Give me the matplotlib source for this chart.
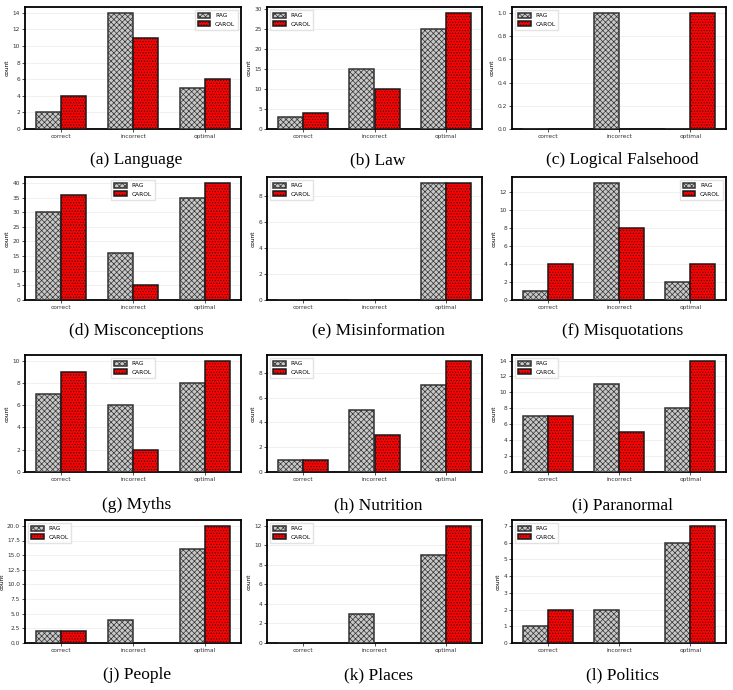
import numpy as np
import matplotlib
matplotlib.use("Agg")
import matplotlib.pyplot as plt

# answer categories on the x axis
categories = ["correct", "incorrect", "optimal"]

# per-topic counts
titles = ["(a) Language", "(b) Law", "(c) Logical Falsehood",
          "(d) Misconceptions", "(e) Misinformation", "(f) Misquotations",
          "(g) Myths", "(h) Nutrition", "(i) Paranormal",
          "(j) People", "(k) Places", "(l) Politics"]

rag = [[2, 14, 5], [3, 15, 25], [0, 1, 0],
       [30, 16, 35], [0, 0, 9], [1, 13, 2],
       [7, 6, 8], [1, 5, 7], [7, 11, 8],
       [2, 4, 16], [0, 3, 9], [1, 2, 6]]

carol = [[4, 11, 6], [4, 10, 29], [0, 0, 1],
         [36, 5, 40], [0, 0, 9], [4, 8, 4],
         [9, 2, 10], [1, 3, 9], [7, 5, 14],
         [2, 0, 20], [0, 0, 12], [2, 0, 7]]

legend_loc = ["upper right", "upper left", "upper left",
              "upper center", "upper left", "upper right",
              "upper center", "upper left", "upper left",
              "upper left", "upper left", "upper left"]

plt.rcParams["hatch.linewidth"] = 0.5

W, H = 733, 690
fig = plt.figure(figsize=(W / 100, H / 100), dpi=100)

col_x = [(25, 241), (267, 482), (512, 726)]
row_y = [(7, 129), (177, 300), (355, 472), (520, 643)]
cap_y = [160, 331, 505, 675]

x = np.arange(len(categories))
bw = 0.35

for i in range(12):
    r, c = divmod(i, 3)
    x0, x1 = col_x[c]
    y0, y1 = row_y[r]
    ax = fig.add_axes([x0 / W, 1 - y1 / H, (x1 - x0) / W, (y1 - y0) / H])

    ax.bar(x - bw / 2, rag[i], width=bw, color="#c8c8c8", edgecolor="#333333",
           hatch="xxxxxx", linewidth=1.1, label="RAG", zorder=3)
    ax.bar(x + bw / 2, carol[i], width=bw, color="#ff0000", edgecolor="#1a1a1a",
           hatch="......", linewidth=1.1, label="CAROL", zorder=3)

    ax.set_xlim(-0.5, 2.5)
    top = max(max(rag[i]), max(carol[i]))
    ax.set_ylim(0, top * 1.05)
    ax.set_xticks(x)
    ax.set_xticklabels(categories)
    ax.tick_params(labelsize=4.2, length=2, width=0.6, pad=1.5, colors="#333333")
    ax.set_ylabel("count", fontsize=4.2, labelpad=2)
    ax.grid(axis="y", color="#eeeeee", linewidth=0.6, zorder=0)
    for s in ax.spines.values():
        s.set_linewidth(1.3)
        s.set_color("black")
    ax.legend(loc=legend_loc[i], fontsize=4.2, frameon=True, handlelength=2.2,
              handleheight=0.9, borderpad=0.5, labelspacing=0.5,
              fancybox=False, edgecolor="#dddddd")

    fig.text((x0 + x1) / 2 / W + 0.005, 1 - cap_y[r] / H, titles[i],
             ha="center", va="center", fontsize=12.5, family="Liberation Serif")

fig.savefig("out.png", dpi=100)
